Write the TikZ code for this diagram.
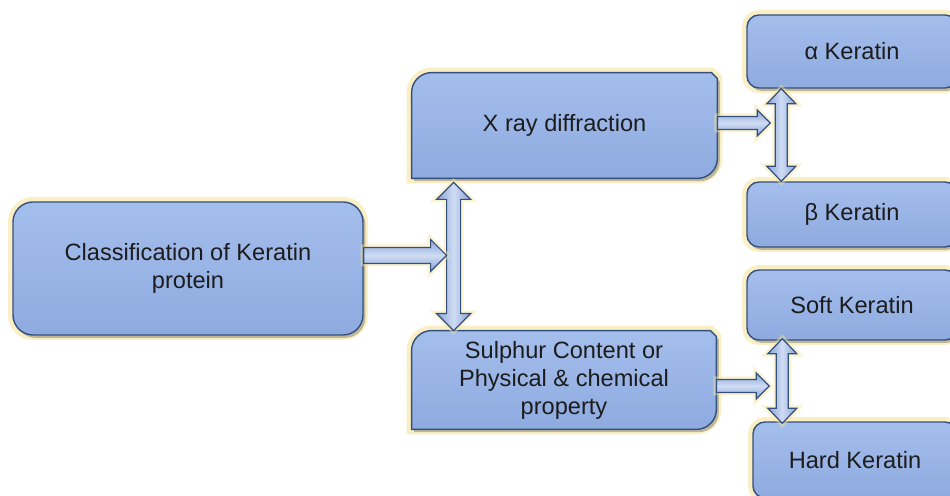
\documentclass[tikz,border=0pt]{standalone}
\usepackage{fontspec}
\setmainfont{Liberation Sans}
\usetikzlibrary{calc,shadows,backgrounds}
\definecolor{edge}{HTML}{34507F}
\definecolor{boxtop}{HTML}{A4BEEC}
\definecolor{boxbot}{HTML}{8EAADF}
\definecolor{glow}{HTML}{F7E59C}
\definecolor{arrowlight}{HTML}{CFDCF3}
\definecolor{arrowdark}{HTML}{88A3D6}
\definecolor{ink}{HTML}{1C1C1C}

\tikzset{
  boxlook/.style={draw=edge,line width=.7pt,top color=boxtop,bottom color=boxbot,
    general shadow={draw=glow,fill=glow,line width=5pt,opacity=.6},
    drop shadow={shadow xshift=1.2pt,shadow yshift=-1.4pt,opacity=.35,fill=black!70}},
  roundbox/.style={boxlook,rounded corners=#1,align=center,inner sep=0pt},
  diagbox/.style={align=center,inner sep=0pt},
  arrowlook/.style={draw=edge,line width=.6pt,
    general shadow={draw=glow,line width=3pt,opacity=.45}},
  harrow/.style={arrowlook,top color=arrowdark,bottom color=arrowdark,middle color=arrowlight},
  varrow/.style={arrowlook,left color=arrowdark,right color=arrowdark,middle color=arrowlight}
}

\newcommand\hblock[5]{%
  \draw[harrow] let \p1=(#1),\p2=(#2) in
    (\x1,\y1+#3) -- (\x2-#5,\y1+#3) -- (\x2-#5,\y1+#4) -- (\x2,\y1)
    -- (\x2-#5,\y1-#4) -- (\x2-#5,\y1-#3) -- (\x1,\y1-#3) -- cycle;}
\newcommand\vblock[5]{%
  \draw[varrow] let \p1=(#1),\p2=(#2) in
    (\x1,\y1) -- (\x1+#4,\y1-#5) -- (\x1+#3,\y1-#5) -- (\x1+#3,\y2+#5)
    -- (\x1+#4,\y2+#5) -- (\x1,\y2) -- (\x1-#4,\y2+#5) -- (\x1-#3,\y2+#5)
    -- (\x1-#3,\y1-#5) -- (\x1-#4,\y1-#5) -- cycle;}

\begin{document}
\begin{tikzpicture}[x=0.5pt,y=0.5pt,font=\fontsize{11.8}{14}\selectfont,text=ink]
  \useasboundingbox (0,0) rectangle (950,-496);

  \node[roundbox=10pt,minimum width=175pt,minimum height=66.5pt] (class)
    at (188,-268.5) {Classification of Keratin\\protein};
  \node[diagbox,minimum width=152.5pt,minimum height=52.5pt] (xray)
    at (564.5,-125.5) {X ray diffraction};
  \node[diagbox,minimum width=152pt,minimum height=49pt] (sulphur)
    at (564,-380) {Sulphur Content or\\Physical \& chemical\\property};

  \node[roundbox=6pt,minimum width=105pt,minimum height=36.5pt] (alpha)
    at (852,-51.5) {α Keratin};
  \node[roundbox=6pt,minimum width=105pt,minimum height=32.5pt] (beta)
    at (852,-214.5) {β Keratin};
  \node[roundbox=6pt,minimum width=105pt,minimum height=35pt] (soft)
    at (852,-305) {Soft Keratin};
  \node[roundbox=6pt,minimum width=102pt,minimum height=38pt] (hard)
    at (855,-460) {Hard Keratin};

  \begin{pgfonlayer}{background}
    \foreach \n in {xray,sulphur}{
      \path[boxlook] (\n.south west) -- ([yshift=-10pt]\n.north west)
        arc[start angle=180,end angle=90,radius=10pt]
        -- ([xshift=-3pt]\n.north east) -- ([yshift=-3pt]\n.north east)
        -- ([yshift=10pt]\n.south east)
        arc[start angle=0,end angle=-90,radius=10pt] -- cycle;
    }
  \end{pgfonlayer}

  \coordinate (fork1) at ([xshift=21pt]xray.south west);
  \coordinate (fork2) at ([xshift=17.5pt]alpha.south west);
  \coordinate (fork3) at ([xshift=18pt]soft.south west);

  \vblock{[yshift=-2pt]fork1}{[xshift=21pt]sulphur.north west}{3.5pt}{8.5pt}{8.5pt}
  \hblock{[yshift=6.5pt]class.east}{[xshift=-3.5pt]fork1}{4pt}{8pt}{8pt}

  \vblock{fork2}{[xshift=17.5pt]beta.north west}{3pt}{7.25pt}{7.5pt}
  \hblock{[yshift=1.25pt]xray.east}{[xshift=-5.5pt]fork2}{3.25pt}{6.5pt}{6.5pt}

  \vblock{[yshift=1pt]fork3}{[xshift=18pt,yshift=-1pt]hard.north west}{3pt}{7.25pt}{7.5pt}
  \hblock{[yshift=-3pt]sulphur.east}{[xshift=-6.5pt]fork3}{3.25pt}{6.5pt}{6.5pt}
\end{tikzpicture}
\end{document}
